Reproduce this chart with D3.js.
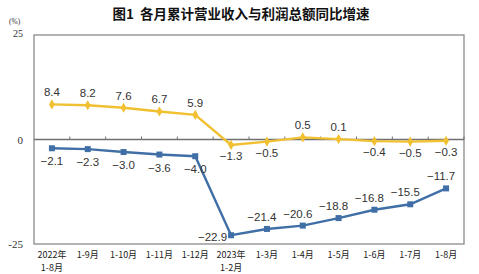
<!DOCTYPE html>
<html><head><meta charset="utf-8">
<script src="https://cdn.jsdelivr.net/npm/d3@7"></script>
<style>body{margin:0;background:#fff}svg{display:block}</style>
</head><body>
<svg id="c" width="479" height="274"></svg>
<script>
const categories = [["2022年","1-8月"],["1-9月"],["1-10月"],["1-11月"],["1-12月"],["2023年","1-2月"],["1-3月"],["1-4月"],["1-5月"],["1-6月"],["1-7月"],["1-8月"]];
const revenue = [8.4, 8.2, 7.6, 6.7, 5.9, -1.3, -0.5, 0.5, 0.1, -0.4, -0.5, -0.3];
const profit = [-2.1, -2.3, -3.0, -3.6, -4.0, -22.9, -21.4, -20.6, -18.8, -16.8, -15.5, -11.7];
const yTicks = [25, 0, -25];
const title = "图1\u00a0\u00a0各月累计营业收入与利润总额同比增速";

const svg = d3.select("#c");
const L = 34, R = 464, T = 35, B = 244;
const x = d3.scaleBand().domain(d3.range(categories.length)).range([L, R]);
const y = d3.scaleLinear().domain([-25, 25]).range([B, T]);
const cx = i => x(i) + x.bandwidth() / 2;

svg.append("text").attr("x", 241).attr("y", 19).attr("text-anchor", "middle")
  .attr("font-family", "Noto Sans CJK SC").attr("font-weight", "bold").attr("font-size", 13.5)
  .attr("fill", "#111").text(title);

// box
svg.append("rect").attr("x", L).attr("y", T).attr("width", R - L).attr("height", B - T)
  .attr("fill", "none").attr("stroke", "#8a8a8a").attr("stroke-width", 1.3);

// y labels
svg.append("text").attr("x", 9).attr("y", 24).attr("font-family", "Liberation Serif")
  .attr("font-size", 7.5).attr("fill", "#333").text("(%)");
yTicks.forEach(v => {
  svg.append("text").attr("x", 23).attr("y", v === 25 ? 37 : y(v) + 4).attr("text-anchor", "end")
    .attr("font-family", "Liberation Serif").attr("font-size", v === 25 ? 10 : 11).attr("fill", "#333").text(v);
});

// zero axis with ticks
svg.append("line").attr("x1", L).attr("x2", R).attr("y1", y(0)).attr("y2", y(0))
  .attr("stroke", "#707070").attr("stroke-width", 1.3);
d3.range(1, categories.length + 1).forEach(i => {
  const xx = i < categories.length ? x(i) : R;
  svg.append("line").attr("x1", xx).attr("x2", xx).attr("y1", y(0)).attr("y2", y(0) - 3)
    .attr("stroke", "#707070").attr("stroke-width", 1);
});

// x labels
categories.forEach((c, i) => {
  const t = svg.append("text").attr("text-anchor", "middle").attr("font-family", "Noto Sans CJK SC")
    .attr("font-size", 9).attr("fill", "#222");
  c.forEach((s, k) => t.append("tspan").attr("x", cx(i)).attr("y", 258 + k * 13).text(s));
});

const line = d3.line().x((d, i) => cx(i)).y(d => y(d));

// revenue (yellow)
svg.append("path").datum(revenue).attr("d", line).attr("fill", "none")
  .attr("stroke", "#f0c030").attr("stroke-width", 2.4);
svg.selectAll(".dm").data(revenue).enter().append("path")
  .attr("d", d3.symbol().type(d3.symbolDiamond).size(30))
  .attr("transform", (d, i) => `translate(${cx(i)},${y(d)})`).attr("fill", "#f0c030");

// profit (blue)
svg.append("path").datum(profit).attr("d", line).attr("fill", "none")
  .attr("stroke", "#3f6fa6").attr("stroke-width", 2.4);
svg.selectAll(".sq").data(profit).enter().append("rect")
  .attr("x", (d, i) => cx(i) - 3).attr("y", d => y(d) - 3).attr("width", 6).attr("height", 6)
  .attr("fill", "#3f6fa6");

const lab = (txt, px, py, anchor) => svg.append("text").attr("x", px).attr("y", py)
  .attr("text-anchor", anchor || "middle").attr("font-family", "Liberation Sans")
  .attr("font-size", 11.5).attr("fill", "#333").text(txt);
const fmt = d3.format(".1f");

revenue.forEach((v, i) => {
  const above = (i < 5) || v > 0;
  lab(fmt(v), cx(i), above ? y(v) - 8 : y(v) + 15);
});
profit.forEach((v, i) => {
  if (i < 5) lab(fmt(v), cx(i), y(v) + 17);
  else if (i === 5) lab(fmt(v), cx(i) - 4, y(v) + 6, "end");
  else lab(fmt(v), cx(i) - 5, y(v) - 8);
});
</script>
</body></html>
